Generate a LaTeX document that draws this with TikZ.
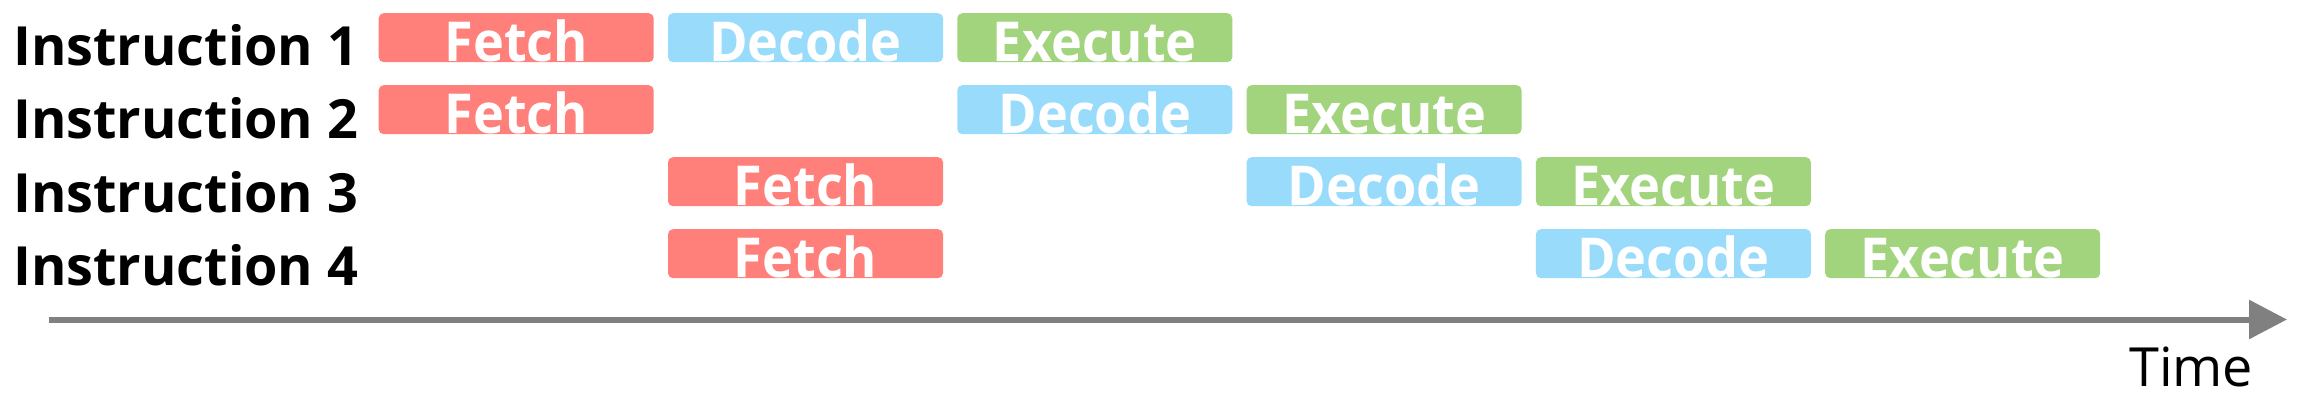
\documentclass[tikz,border=0pt]{standalone}
\usepackage{fontspec}
\setmainfont{Open Sans}
\newfontfamily\boxfont[FakeStretch=0.95]{Open Sans}
\usetikzlibrary{arrows.meta}
\definecolor{fetchc}{HTML}{FF7F7A}
\definecolor{decodec}{HTML}{99DBFA}
\definecolor{execc}{HTML}{A2D47E}
\definecolor{axisc}{HTML}{808080}
\begin{document}
\begin{tikzpicture}[x=1pt,y=-1pt,
  stage/.style={anchor=north west, minimum width=275pt, minimum height=49pt,
    inner sep=0pt, text height=48pt, text depth=1pt, rounded corners=5pt,
    text=white, font=\boxfont\fontsize{55}{55}\selectfont\bfseries},
  fetchbox/.style={stage, fill=fetchc},
  decodebox/.style={stage, fill=decodec},
  execbox/.style={stage, fill=execc},
  lab/.style={anchor=base west, inner sep=0pt, font=\fontsize{54}{54}\selectfont\bfseries},
  axis/.style={draw=axisc, line width=6pt, -{Triangle[length=38pt,width=38pt]}}
]
\useasboundingbox (0,0) rectangle (2299,403);
\def\cA{378.5}\def\cB{667.8}\def\cC{957.1}\def\cD{1246.4}\def\cE{1535.7}\def\cF{1825}
\def\rA{13}\def\rB{85}\def\rC{157}\def\rD{229}
% labels
\node[lab] (l1) at (13,66) {Instruction 1};
\node[lab] (l2) at (13,139) {Instruction 2};
\node[lab] (l3) at (13,213) {Instruction 3};
\node[lab] (l4) at (13,286) {Instruction 4};
% row 1
\node[fetchbox] (f1) at (\cA,\rA) {Fetch};
\node[decodebox] (d1) at (\cB,\rA) {Decode};
\node[execbox] (e1) at (\cC,\rA) {Execute};
% row 2
\node[fetchbox] (f2) at (\cA,\rB) {Fetch};
\node[decodebox] (d2) at (\cC,\rB) {Decode};
\node[execbox] (e2) at (\cD,\rB) {Execute};
% row 3
\node[fetchbox] (f3) at (\cB,\rC) {Fetch};
\node[decodebox] (d3) at (\cD,\rC) {Decode};
\node[execbox] (e3) at (\cE,\rC) {Execute};
% row 4
\node[fetchbox] (f4) at (\cB,\rD) {Fetch};
\node[decodebox] (d4) at (\cE,\rD) {Decode};
\node[execbox] (e4) at (\cF,\rD) {Execute};
% time axis
\coordinate (ts) at (49,319.5);
\coordinate (te) at (2287,319.5);
\draw[axis] (ts) -- (te);
\node[anchor=base west, inner sep=0pt, font=\fontsize{54}{54}\selectfont] (time) at (2129,386.7) {Time};
\end{tikzpicture}
\end{document}
